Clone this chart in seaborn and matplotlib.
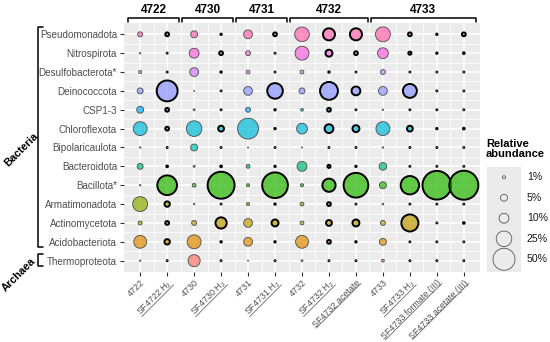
import numpy as np
import pandas as pd
import matplotlib
matplotlib.use("Agg")
import matplotlib.pyplot as plt
import seaborn as sns
from matplotlib.transforms import blended_transform_factory as btf, IdentityTransform
from matplotlib.lines import Line2D
from matplotlib import colors as mcolors

# ---------------- data ----------------
phyla = ["Pseudomonadota", "Nitrospirota", "Desulfobacterota*", "Deinococcota",
         "CSP1-3", "Chloroflexota", "Bipolaricaulota", "Bacteroidota", "Bacillota*",
         "Armatimonadota", "Actinomycetota", "Acidobacteriota", "Thermoproteota"]

phylum_colors = ["#FF65AC", "#F962DD", "#D575FE", "#8B93FF", "#00ACFC", "#00BBDA",
                 "#00C1AB", "#00BE70", "#24B700", "#8CAB00", "#BE9C00", "#E18A00", "#F8766D"]

samples = ["4722", "SF4722 H2", "4730", "SF4730 H2", "4731", "SF4731 H2", "4732",
           "SF4732 H2", "SF4732 acetate", "4733", "SF4733 H2",
           "SF4733 formate (III)", "SF4733 acetate (III)"]
enrichment = [False, True, False, True, False, True, False, True, True, False, True, True, True]

groups = ["4722", "4730", "4731", "4732", "4733"]
group_members = [["4722", "SF4722 H2"], ["4730", "SF4730 H2"], ["4731", "SF4731 H2"],
                 ["4732", "SF4732 H2", "SF4732 acetate"],
                 ["4733", "SF4733 H2", "SF4733 formate (III)", "SF4733 acetate (III)"]]

domains = ["Bacteria", "Archaea"]
domain_members = [phyla[:12], phyla[12:]]

# relative abundance (%) per sample, in phylum order
v_4722 = [2.6, 0.2, 1.0, 3.7, 5.0, 20, 0.2, 3.7, 0.2, 23, 1.6, 17, 0.2]
v_SF4722_H2 = [1.5, 0.1, 0.1, 45, 1.5, 1.5, 0.1, 0.3, 40, 3.0, 1.5, 3.0, 0.1]
v_4730 = [5.0, 10, 8.0, 0.1, 0.4, 25, 5.0, 0.4, 1.5, 0.2, 2.5, 20, 15]
v_SF4730_H2 = [0.2, 1.5, 0.2, 0.1, 0.1, 3.5, 0.1, 0.3, 75, 0.1, 13, 0.2, 0.1]
v_4731 = [8.0, 2.5, 1.5, 8.0, 2.5, 45, 0.1, 1.5, 1.0, 1.0, 8.0, 8.0, 0.1]
v_SF4731_H2 = [1.5, 0.1, 0.1, 25, 0.2, 0.2, 0.1, 0.2, 68, 0.2, 5.0, 0.2, 0.1]
v_4732 = [22, 20, 1.5, 3.7, 0.8, 12, 0.1, 10, 1.0, 1.5, 1.5, 17, 0.4]
v_SF4732_H2 = [15, 5.0, 0.2, 33, 1.5, 8.0, 0.1, 1.0, 18, 1.5, 3.5, 1.5, 0.1]
v_SF4732_acetate = [15, 1.5, 0.1, 8.0, 0.1, 5.0, 0.1, 0.2, 63, 0.1, 5.0, 0.2, 0.1]
v_4733 = [23, 12, 2.5, 8.0, 0.2, 20, 0.2, 6.0, 5.0, 0.3, 2.5, 5.0, 0.8]
v_SF4733_H2 = [1.5, 1.0, 0.1, 20, 0.1, 3.5, 0.1, 0.1, 35, 0.1, 30, 0.1, 0.1]
v_SF4733_formate = [0.2, 0.2, 0.1, 0.1, 0.1, 0.2, 0.1, 0.1, 85, 0.1, 0.1, 0.1, 0.1]
v_SF4733_acetate = [1.5, 0.3, 0.1, 0.1, 0.1, 0.3, 0.1, 0.1, 87, 0.1, 0.3, 0.1, 0.1]

values = [v_4722, v_SF4722_H2, v_4730, v_SF4730_H2, v_4731, v_SF4731_H2, v_4732,
          v_SF4732_H2, v_SF4732_acetate, v_4733, v_SF4733_H2, v_SF4733_formate,
          v_SF4733_acetate]

legend_breaks = [1, 5, 10, 25, 50]
legend_labels = ["1%", "5%", "10%", "25%", "50%"]

# ---------------- frame ----------------
rows = []
for si, (s, vals) in enumerate(zip(samples, values)):
    for pi, (p, v) in enumerate(zip(phyla, vals)):
        rows.append(dict(sample=s, xi=si, phylum=p, yi=pi, value=v,
                         enrich=enrichment[si]))
df = pd.DataFrame(rows)

alpha = 0.7
palette = {p: mcolors.to_rgba(c, alpha) for p, c in zip(phyla, phylum_colors)}

# ---------------- style ----------------
sns.set_theme(style="darkgrid")
plt.rcParams["font.family"] = ["Liberation Sans", "DejaVu Sans"]
plt.rcParams["mathtext.fontset"] = "custom"
plt.rcParams["mathtext.rm"] = "Liberation Sans"
plt.rcParams["mathtext.it"] = "Liberation Sans:italic"
plt.rcParams["mathtext.bf"] = "Liberation Sans:bold"

W, H = 550, 342
fig = plt.figure(figsize=(W / 100, H / 100), dpi=100)
L, R, T, B = 124, 480, 23, 272
ax = fig.add_axes([L / W, 1 - B / H, (R - L) / W, (B - T) / H])
ax.set_facecolor("#EBEBEB")

SMAX = 502  # marker area (pt^2) at 100 %
size_kw = dict(size="value", sizes=(0, SMAX), size_norm=(0, 100))

sns.scatterplot(data=df[~df.enrich], x="xi", y="yi", hue="phylum", palette=palette,
                hue_order=phyla, edgecolor="#4a4a4a", linewidth=0.6, legend=False,
                ax=ax, zorder=3, clip_on=False, **size_kw)
sns.scatterplot(data=df[df.enrich], x="xi", y="yi", hue="phylum", palette=palette,
                hue_order=phyla, edgecolor="black", linewidth=1.4, legend=False,
                ax=ax, zorder=3, clip_on=False, **size_kw)

n_x, n_y = len(samples), len(phyla)
ax.set_xlim(-0.6, n_x - 0.4)
ax.set_ylim(n_y - 0.4, -0.6)
ax.set_xticks(range(n_x))
ax.set_yticks(range(n_y))
ax.set_xticks(np.arange(0.5, n_x - 1, 1), minor=True)
ax.set_yticks(np.arange(0.5, n_y - 1, 1), minor=True)
ax.grid(which="major", color="white", linewidth=1.1)
ax.grid(which="minor", color="white", linewidth=0.55)
ax.set_axisbelow(True)
for sp in ax.spines.values():
    sp.set_visible(False)


def fmt_label(s):
    if "H2" in s:
        return r"$\mathrm{" + s.replace(" ", r"\ ").replace("H2", "H_2") + "}$"
    return s


ax.set_xticklabels([fmt_label(s) for s in samples], rotation=45, ha="right",
                   rotation_mode="anchor", fontsize=6.4, color="#4D4D4D")
ax.set_yticklabels(phyla, fontsize=7.1, color="#4D4D4D")
ax.tick_params(axis="x", which="major", length=3, width=0.8, color="#333333",
               pad=1.5, bottom=True)
ax.tick_params(axis="y", which="major", length=3, width=0.8, color="#333333",
               pad=2, left=True)
ax.tick_params(axis="both", which="minor", length=0)
ax.set_xlabel("")
ax.set_ylabel("")

# ---------------- group brackets (top) ----------------
tr_top = btf(ax.transData, ax.transAxes)
for g, members in zip(groups, group_members):
    idx = [samples.index(m) for m in members]
    x0, x1 = min(idx) - 0.44, max(idx) + 0.44
    ax.plot([x0, x0, x1, x1], [1.004, 1.021, 1.021, 1.004], color="black", lw=1.1,
            transform=tr_top, clip_on=False)
    ax.text((min(idx) + max(idx)) / 2, 1.053, g, transform=tr_top, ha="center",
            va="center", fontsize=8.5, fontweight="bold", color="black")

# ---------------- domain brackets (left) ----------------
tr_left = btf(ax.transAxes, ax.transData)
xa = (38 - L) / (R - L)
xb = (43 - L) / (R - L)
domain_text_pos = [(21, 150), (19, 275)]
for d, members, (tx, ty) in zip(domains, domain_members, domain_text_pos):
    idx = [phyla.index(m) for m in members]
    y0, y1 = min(idx) - 0.37, max(idx) + 0.3
    ax.plot([xb, xa, xa, xb], [y0, y0, y1, y1], color="black", lw=1.1,
            transform=tr_left, clip_on=False)
    fig.text(tx / W, 1 - ty / H, d, rotation=45, ha="center", va="center",
             fontsize=7.8, fontweight="bold", color="black")

# ---------------- size legend ----------------
lax = fig.add_axes([487 / W, 1 - 272 / H, 34 / W, 105 / H])
lax.set_facecolor("#EBEBEB")
leg_df = pd.DataFrame(dict(value=legend_breaks, yi=range(len(legend_breaks)),
                           xi=[0] * len(legend_breaks)))
sns.scatterplot(data=leg_df, x="xi", y="yi", facecolor="none", edgecolor="#555555",
                linewidth=0.6, legend=False, ax=lax, clip_on=False, **size_kw)
lax.set_xlim(-0.5, 0.5)
lax.set_ylim(4.62, -0.5)
lax.grid(False)
lax.set_xticks([])
lax.set_yticks([])
lax.set_xlabel("")
lax.set_ylabel("")
for sp in lax.spines.values():
    sp.set_visible(False)
tr_leg = btf(lax.transAxes, lax.transData)
for i, lab in enumerate(legend_labels):
    lax.text(1.17, i, lab, transform=tr_leg, ha="left", va="center", fontsize=7.6,
             color="#1a1a1a")
fig.text(486 / W, 1 - 139 / H, "Relative\nabundance", ha="left", va="top",
         fontsize=8, fontweight="bold", color="black", linespacing=1.0)

# ---------------- underline enrichment labels ----------------
fig.canvas.draw()
renderer = fig.canvas.get_renderer()
c45 = np.sqrt(0.5)
u = np.array([c45, c45])      # along the text
n = np.array([c45, -c45])     # from text top toward text bottom
for lab, enr in zip(ax.get_xticklabels(), enrichment):
    if not enr:
        continue
    tmp = fig.text(0, 0, lab.get_text(), fontproperties=lab.get_fontproperties())
    tb = tmp.get_window_extent(renderer)
    tmp.remove()
    w, h = tb.width, tb.height
    rb = lab.get_window_extent(renderer)
    A = np.array([rb.x1 - c45 * h, rb.y1])   # top-right corner of the text
    d = 0.8 * h
    p1 = A + d * n
    p0 = p1 - w * u
    fig.add_artist(Line2D([p0[0], p1[0]], [p0[1], p1[1]], transform=IdentityTransform(),
                          color="#4D4D4D", lw=0.5))

fig.savefig("out.png", dpi=100)
